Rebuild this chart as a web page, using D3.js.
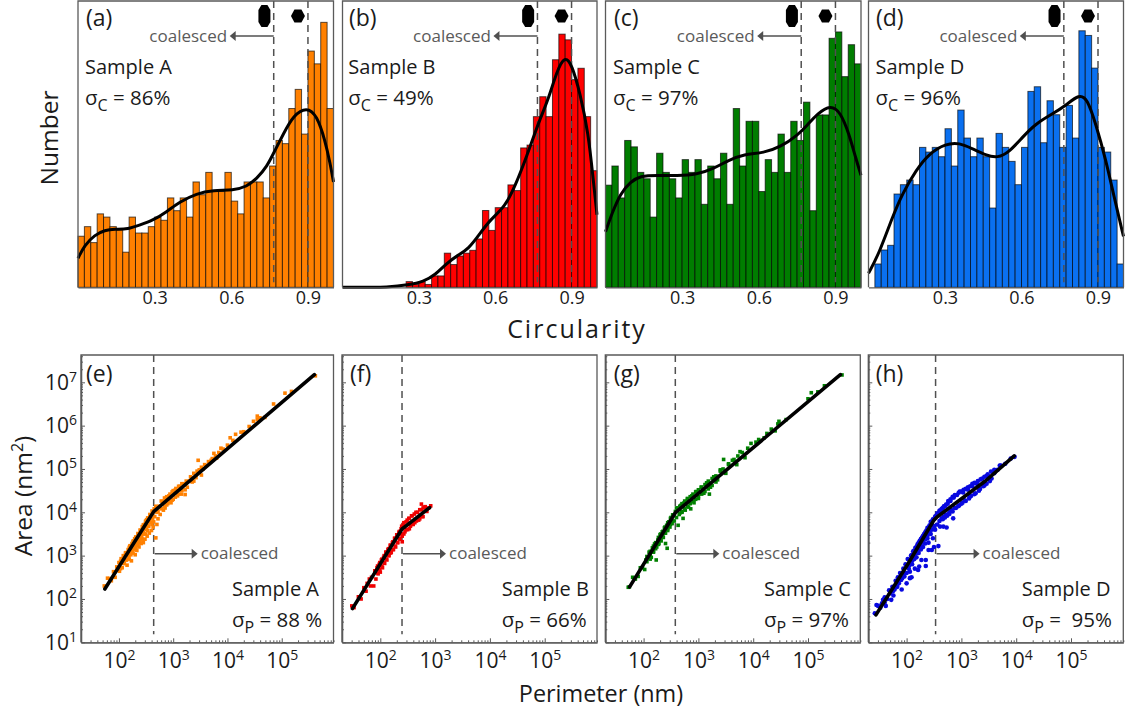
<!DOCTYPE html>
<html><head><meta charset="utf-8">
<script src="https://cdn.jsdelivr.net/npm/d3@7"></script>
<style>html,body{margin:0;padding:0;background:#fff}svg{display:block}text{font-family:"Open Sans","Noto Sans",sans-serif;fill:#1a1a1a}</style>
</head><body><svg id="c" width="1128" height="713"></svg>
<script>
// ---------- histogram counts (40 bins on 0..1) ----------
const histA=[16,19,14,23,22,19,18,11,22,17,17,19,22,21,28,24,28,22,33,29,36,30,30,36,27,23,33,33,33,28,38,46,45,56,62,48,74,70,83,56];
const histB=[0,0,0,0,0,0,0,0,0,0,2,1,2,1,4,4,12,8,11,12,13,17,27,20,28,28,36,34,49,50,60,67,60,80,89,87,73,77,60,41];
const histC=[32,38,28,46,44,36,34,22,42,36,34,28,40,36,40,26,38,34,42,26,56,38,52,52,30,40,36,48,36,52,46,58,24,54,54,78,80,66,76,70];
const histD=[0,5,8,9,20,22,23,22,30,29,30,28,34,26,38,32,28,32,28,17,33,30,27,22,30,42,43,31,40,37,30,39,32,55,54,47,30,29,23,5];
const histMax=[90,101,90,61.6];
// ---------- fitted curves ----------
const kdeXA=[0,.026,.065,.105,.144,.196,.242,.294,.346,.399,.464,.529,.608,.660,.699,.739,.771,.804,.843,.895,.935,.967,.987,1];
const kdeYA=[9.1,13.2,16.4,17.9,18.2,18.2,19.5,21,23.6,26.8,29.4,30.4,30.4,31.5,34,37.7,42.9,48.1,53.9,56.5,53.9,46,38.8,33];
const kdeXB=[0,.195,.254,.319,.365,.410,.450,.495,.541,.580,.639,.678,.724,.770,.809,.842,.874,.901,.933,.966,.985,1];
const kdeYB=[0,0,.8,2,4.4,8.5,11.1,13.4,19,23.7,28.4,35.5,46,57.9,66.1,76,81.4,78.4,68.4,54.3,37.9,25.5];
const kdeXC=[0,.025,.058,.097,.136,.201,.280,.358,.424,.482,.541,.620,.686,.751,.790,.829,.881,.920,.953,.980,1];
const kdeYC=[17.4,23.1,29.4,33,34.9,35.1,34.9,35.3,37.2,39.8,41.7,42.1,44,47.6,50.8,54.4,57.2,54.9,48.1,40.3,35.1];
const kdeXD=[0,.042,.094,.133,.186,.238,.303,.356,.408,.460,.506,.552,.604,.656,.722,.774,.826,.858,.891,.931,.963,1];
const kdeYD=[3,7.3,15.1,20.1,25.1,28.7,30.8,31,29.7,28.3,27.7,29,32.2,35.1,37.2,39,41.4,40.5,35.1,27.3,19.4,10.9];
// ---------- scatter points, [log10 perimeter, log10 area] ----------
const ptsA=[[1.73,2.3],[1.79,2.48],[1.83,2.47],[1.86,2.42],[1.9,2.63],[1.93,2.5],[1.96,2.74],[2,2.84],[2.01,2.64],[2.04,2.93],[2.06,2.72],[2.08,3],[2.1,2.82],[2.12,3.06],[2.14,2.9],[2.15,2.78],[2.17,3.14],[2.18,2.96],[2.2,3.22],[2.22,3.02],[2.23,2.88],[2.24,3.28],[2.25,3.1],[2.27,3.34],[2.28,3.15],[2.3,3.02],[2.3,3.25],[2.32,3.42],[2.33,3.12],[2.34,3.3],[2.36,3.5],[2.37,3.2],[2.38,3.36],[2.4,3.58],[2.41,3.28],[2.42,3.44],[2.44,3.66],[2.45,3.3],[2.46,3.5],[2.47,3.72],[2.48,3.38],[2.5,3.6],[2.5,3.8],[2.52,3.45],[2.54,3.86],[2.55,3.68],[2.56,3.52],[2.58,3.92],[2.59,3.76],[2.6,3.58],[2.62,3.98],[2.62,3.85],[2.63,3.66],[2.64,3.78],[2.65,4.08],[2.66,3.9],[2.68,3.41],[2.7,3.72],[2.7,4],[2.72,3.85],[2.74,4.14],[2.76,3.95],[2.8,4.25],[2.82,4.05],[2.85,4.1],[2.86,4.32],[2.9,4.2],[2.92,4.38],[2.96,4.22],[3,4.5],[3,4.3],[3.05,4.55],[3.08,4.38],[3.12,4.6],[3.15,4.42],[3.2,4.66],[3.22,4.52],[3.22,4.41],[3.3,4.72],[3.35,4.7],[3.42,4.8],[3.46,5.2],[3.48,4.98],[3.55,5],[3.6,5.08],[3.7,5.2],[3.75,5.36],[3.8,5.25],[3.88,5.48],[4,5.55],[4.05,5.72],[4.15,5.8],[4.25,5.85],[4.4,5.98],[4.48,6.1],[4.55,6.22],[4.69,6.19],[4.85,6.5],[5.06,6.75],[5.18,6.79],[5.62,7.15]];
const ptsA2=[[2.03,2.87],[2.03,2.7],[2.09,2.99],[2.09,2.82],[2.13,3.07],[2.13,2.9],[2.19,3.19],[2.19,3.02],[2.19,2.92],[2.21,3.23],[2.21,3.06],[2.26,3.33],[2.26,3.16],[2.26,3.06],[2.29,3.39],[2.29,3.22],[2.31,3.43],[2.31,3.26],[2.31,3.16],[2.35,3.51],[2.35,3.34],[2.35,3.24],[2.39,3.59],[2.39,3.42],[2.39,3.3],[2.43,3.67],[2.43,3.5],[2.43,3.38],[2.45,3.71],[2.45,3.54],[2.49,3.79],[2.49,3.62],[2.49,3.5],[2.51,3.83],[2.51,3.66],[2.53,3.87],[2.53,3.7],[2.53,3.58],[2.57,3.95],[2.57,3.78],[2.61,4.03],[2.61,3.86],[2.61,3.72],[2.68,4.14],[2.72,4.02],[2.78,4.26],[2.78,4.08],[2.84,4.33],[2.84,4.14],[2.88,4.36],[2.88,4.17],[2.94,4.42],[2.94,4.25],[2.98,4.47],[2.98,4.28],[3.04,4.52],[3.04,4.35],[3.1,4.6],[3.1,4.42],[3.16,4.66],[3.16,4.5],[3.24,4.72],[3.26,4.58],[3.32,4.82],[3.38,4.9],[3.38,4.72],[3.44,4.95],[3.52,5.04],[3.52,4.86],[3.58,5.1],[3.65,5.17],[3.72,5.24],[3.78,5.3],[3.84,5.38],[3.92,5.46],[4.1,5.66],[4.3,5.86],[4.55,6.14],[4.6,6.18]];
const ptsB=[[1.48,1.84],[1.52,1.8],[1.6,2.05],[1.65,2],[1.7,2.26],[1.74,2.18],[1.76,2.36],[1.8,2.46],[1.82,2.3],[1.84,2.5],[1.88,2.3],[1.9,2.65],[1.92,2.46],[1.94,2.72],[1.96,2.58],[1.98,2.8],[2,2.62],[2.02,2.9],[2.04,2.72],[2.06,2.96],[2.08,2.82],[2.1,3.08],[2.12,2.9],[2.14,3.14],[2.16,3],[2.18,3.24],[2.2,3.08],[2.22,3.3],[2.24,3.14],[2.26,3.4],[2.28,3.2],[2.3,3.48],[2.32,3.3],[2.34,3.54],[2.36,3.4],[2.38,3.62],[2.4,3.45],[2.4,3.32],[2.42,3.72],[2.45,3.55],[2.47,3.78],[2.5,3.6],[2.52,3.86],[2.55,3.68],[2.58,3.92],[2.6,3.72],[2.62,3.96],[2.66,3.8],[2.68,4],[2.72,3.85],[2.75,4.06],[2.75,4.19],[2.78,3.9],[2.8,4.12],[2.82,4.13],[2.85,4.02],[2.88,4.1],[2.92,4.15]];
const ptsB2=[[1.95,2.76],[1.95,2.6],[1.99,2.84],[1.99,2.68],[2.03,2.92],[2.03,2.76],[2.07,3],[2.07,2.84],[2.11,3.08],[2.11,2.92],[2.15,3.16],[2.15,3],[2.19,3.24],[2.19,3.06],[2.23,3.32],[2.23,3.14],[2.27,3.4],[2.27,3.22],[2.31,3.48],[2.31,3.3],[2.35,3.56],[2.35,3.38],[2.39,3.68],[2.39,3.5],[2.43,3.76],[2.43,3.5],[2.47,3.6],[2.49,3.82],[2.53,3.86],[2.53,3.62],[2.57,3.92],[2.57,3.72],[2.63,3.76],[2.65,4],[2.7,3.82],[2.72,4.06],[2.78,4.1],[2.76,3.9]];
const ptsC=[[1.72,2.27],[1.74,2.28],[1.8,2.5],[1.85,2.46],[1.9,2.52],[1.94,2.72],[1.98,2.72],[2.02,2.68],[2.04,2.9],[2.08,2.95],[2.1,3.08],[2.12,2.92],[2.14,2.96],[2.16,3.18],[2.18,3.1],[2.2,3.27],[2.23,2.9],[2.24,3.2],[2.26,3.36],[2.28,3.28],[2.3,3.48],[2.32,3.34],[2.34,3.55],[2.36,3.42],[2.38,3.64],[2.4,3.28],[2.4,3.52],[2.42,3.7],[2.43,3.17],[2.44,3.58],[2.46,3.78],[2.48,3.66],[2.5,3.88],[2.52,3.74],[2.54,3.94],[2.56,3.8],[2.58,4.02],[2.6,3.88],[2.62,4.1],[2.63,3.7],[2.65,3.95],[2.68,4.16],[2.7,4],[2.72,3.86],[2.74,4.22],[2.76,4.05],[2.8,4.3],[2.82,4.12],[2.86,4.08],[2.88,4.38],[2.92,4.22],[2.96,4.48],[3,4.32],[3.05,4.58],[3.1,4.44],[3.15,4.68],[3.2,4.42],[3.22,4.58],[3.28,4.82],[3.35,4.75],[3.4,4.98],[3.46,5.22],[3.5,4.9],[3.55,5.12],[3.65,5.22],[3.7,5.1],[3.76,5.4],[3.85,5.26],[3.96,5.59],[4.05,5.62],[4.2,5.72],[4.33,5.92],[4.4,5.88],[4.47,6.1],[4.6,6.14],[5,6.62],[5.06,6.76],[5.18,6.78],[5.3,6.92],[5.62,7.17]];
const ptsC2=[[2.06,2.98],[2.06,2.86],[2.12,3.1],[2.12,3],[2.18,3.22],[2.18,3.08],[2.22,3.3],[2.22,3.16],[2.27,3.42],[2.27,3.26],[2.31,3.5],[2.31,3.36],[2.35,3.56],[2.35,3.44],[2.39,3.66],[2.39,3.52],[2.44,3.76],[2.44,3.62],[2.49,3.86],[2.49,3.72],[2.53,3.94],[2.53,3.8],[2.6,4.1],[2.66,4.14],[2.66,3.98],[2.7,4.2],[2.7,4.02],[2.75,4.26],[2.75,4.08],[2.8,4.32],[2.8,4.14],[2.85,4.36],[2.85,4.2],[2.9,4.42],[2.9,4.25],[2.95,4.47],[2.95,4.3],[3,4.52],[3,4.36],[3.06,4.58],[3.06,4.42],[3.12,4.64],[3.12,4.48],[3.18,4.72],[3.18,4.54],[3.25,4.78],[3.25,4.62],[3.32,4.84],[3.32,4.7],[3.4,4.95],[3.45,5],[3.55,5.1],[3.62,5.2],[3.72,5.3],[3.8,5.38],[3.9,5.48],[4.1,5.68],[4.25,5.82],[4.45,6.04]];
const ptsD=[[1.42,1.67],[1.45,1.86],[1.48,1.84],[1.52,1.8],[1.55,1.9],[1.57,1.98],[1.6,2.04],[1.62,1.84],[1.65,2],[1.7,2.13],[1.72,1.98],[1.74,2.28],[1.76,2.08],[1.78,2.22],[1.8,2.42],[1.83,2.28],[1.84,2.5],[1.86,2.36],[1.88,2.6],[1.91,2.22],[1.92,2.48],[1.94,2.7],[1.96,2.52],[1.98,2.8],[2,2.36],[2,2.6],[2.02,2.92],[2.04,2.7],[2.06,2.48],[2.06,2.63],[2.08,3],[2.09,2.5],[2.1,2.8],[2.12,3.1],[2.14,2.92],[2.15,2.7],[2.16,3.18],[2.18,2.96],[2.2,3.26],[2.21,2.67],[2.22,3.06],[2.23,2.75],[2.24,3.34],[2.26,3.14],[2.27,2.9],[2.28,3.42],[2.3,3.2],[2.32,3.5],[2.34,3.28],[2.35,2.9],[2.35,2.76],[2.36,3.58],[2.38,3.4],[2.4,3.13],[2.4,3.3],[2.42,3.68],[2.44,3.5],[2.46,3.13],[2.46,3.76],[2.48,3.4],[2.5,3.2],[2.5,3.84],[2.52,3.6],[2.54,3.92],[2.56,3.72],[2.58,3.22],[2.58,3.98],[2.6,3.8],[2.61,3.67],[2.62,4.04],[2.64,3.86],[2.66,4.1],[2.67,3.67],[2.68,3.9],[2.7,4.14],[2.72,3.95],[2.73,3.65],[2.75,4.2],[2.78,4],[2.8,4.26],[2.82,4.05],[2.85,3.86],[2.86,4.34],[2.88,4.1],[2.92,4.4],[2.94,4.14],[2.97,4.48],[3,4.2],[3.03,4.46],[3.06,4.28],[3.12,4.52],[3.15,4.36],[3.2,4.6],[3.24,4.42],[3.28,4.66],[3.32,4.5],[3.38,4.78],[3.42,4.62],[3.48,4.88],[3.52,4.72],[3.6,4.9],[3.66,4.98],[3.72,5.08],[3.8,5.12],[3.9,5.24],[3.97,5.28]];
const ptsD2=[[2.1,3.02],[2.14,3.12],[2.18,3.2],[2.22,3.3],[2.26,3.38],[2.3,3.46],[2.34,3.54],[2.38,3.64],[2.42,3.7],[2.44,3.78],[2.48,3.84],[2.52,3.9],[2.56,3.98],[2.6,4.04],[2.64,4.08],[2.68,4.14],[2.72,4.18],[2.76,4.26],[2.8,4.3],[2.84,4.36],[2.88,4.4],[2.95,4.45],[3,4.48],[3.04,4.52],[3.08,4.54],[3.12,4.58],[3.16,4.6],[3.2,4.66],[3.24,4.68],[3.3,4.72],[3.35,4.76],[3.42,4.82],[3.46,4.84],[3.54,4.94],[3.6,4.98],[3.7,5.08],[2.66,3.84],[2.7,3.88],[2.74,3.92],[2.78,3.96],[2.84,4.02],[2.9,4.1],[2.96,4.16],[3.02,4.22],[3.08,4.26],[3.14,4.32],[3.18,4.38],[3.26,4.44],[3.34,4.54],[3.4,4.6],[3.46,4.66],[3.55,4.78],[2.05,2.78],[2.1,2.88],[2.14,2.98],[2.18,3.06],[2.22,3.14],[2.26,3.22],[2.3,3.3],[2.34,3.38],[2.38,3.46],[2.42,3.54],[2.46,3.6],[2.5,3.68],[1.8,2.3],[1.75,2.18],[1.68,2.2],[1.6,1.92],[1.95,2.6],[1.9,2.44]];
// ---------- fit lines, perimeter and area ----------
const fitPA=[55,437,4e5], fitAA=[170,1.04e4,1.5e7];
const fitPB=[31,249,794], fitAB=[60,4100,12800];
const fitPC=[55.6,379,3.9e5], fitAC=[190,9800,1.5e7];
const fitPD=[27.6,107,315,363,2690,9200], fitAD=[43,660,6600,7900,5.2e4,2e5];
// ---------- labels and thresholds ----------
const sampleNames=["Sample A","Sample B","Sample C","Sample D"];
const topLetters=["(a)","(b)","(c)","(d)"], botLetters=["(e)","(f)","(g)","(h)"];
const sigmaC=[" = 86%"," = 49%"," = 97%"," = 96%"];
const sigmaP=[" = 88 %"," = 66%"," = 97%"," =  95%"];
const circTicks=[.3,.6,.9];
const circCuts=[.766,.9];
const perimCuts=[437,249,379,338];
const perimTicks=[1e2,1e3,1e4,1e5], areaTicks=[1e1,1e2,1e3,1e4,1e5,1e6,1e7];
const histColors=["#ff8000","#ff0000","#007d00","#0a70f0"];
const dotColors=["#ff8000","#f00000","#008000","#0808e0"];

const svg=d3.select("#c");
const hists=[histA,histB,histC,histD];
const kdeX=[kdeXA,kdeXB,kdeXC,kdeXD], kdeY=[kdeYA,kdeYB,kdeYC,kdeYD];
const pts=[ptsA.concat(ptsA2),ptsB.concat(ptsB2),ptsC.concat(ptsC2),ptsD.concat(ptsD2)];
const fitP=[fitPA,fitPB,fitPC,fitPD], fitA=[fitAA,fitAB,fitAC,fitAD];
const frameCol="#5a5a5a", gray="#505050";

const topL=[78,342.5,605.5,868.5], topR=[333.5,597,861,1123.5];
const botL=[81,342,605.3,868.3], botR=[333.5,597,860.3,1123.3];
const topY=[1,287.3], botY=[355,642.3];
const txtX=[85,348.3,613,875.5], lblX=[86,349,614,876];
const botTxtX=[232,501.7,764,1021.7], botLblX=[86,350,613.7,875.7];
const fs=20;

function txt(g,x,y,s,size,o={}){
  const t=g.append("text").attr("x",x).attr("y",y).attr("font-size",size).text(s);
  if(o.anchor)t.attr("text-anchor",o.anchor);
  if(o.fill)t.style("fill",o.fill);
  if(o.spacing)t.attr("letter-spacing",o.spacing);
  if(o.rot!=null)t.attr("transform",`rotate(${o.rot} ${x} ${y})`);
  return t;
}
function sigma(g,x,y,sub,rest){
  const t=g.append("text").attr("x",x).attr("y",y).attr("font-size",20.5).attr("xml:space","preserve").style("white-space","pre");
  t.append("tspan").text("σ");
  t.append("tspan").attr("dy",6).attr("font-size",16).text(sub);
  t.append("tspan").attr("dy",-6).text(rest);
}
function power(sel,d,supSize,dy){
  const e=Math.round(Math.log10(d));
  sel.text(null);
  sel.append("tspan").text("10");
  sel.append("tspan").attr("dy",dy).attr("font-size",supSize).text(e);
}
function frame(g,x0,x1,y0,y1){
  g.append("path").attr("d",`M${x0},${y1}V${y0}H${x1}V${y1}`).attr("fill","none").attr("stroke",frameCol).attr("stroke-width",1.3);
}
function arrow(g,x0,x1,y){
  const dir=Math.sign(x1-x0);
  g.append("line").attr("x1",x0).attr("x2",x1-dir*5).attr("y1",y).attr("y2",y).attr("stroke",gray).attr("stroke-width",1.5);
  g.append("path").attr("d",`M${x1},${y}L${x1-dir*6},${y-5}V${y+5}Z`).attr("fill",gray);
}

const unit=d3.line();
hists.forEach((h,i)=>{
  const g=svg.append("g");
  const x=d3.scaleLinear().domain([0,1]).range([topL[i],topR[i]]);
  const y=d3.scaleLinear().domain([0,histMax[i]]).range([topY[1],topY[1]-287.3]);
  g.selectAll("rect").data(h).join("rect")
    .attr("x",(d,k)=>x(k/40)).attr("width",(d,k)=>x((k+1)/40)-x(k/40))
    .attr("y",d=>y(d)).attr("height",d=>topY[1]-y(d))
    .attr("fill",histColors[i]).attr("stroke","#000").attr("stroke-opacity",.65).attr("stroke-width",d=>d?1:0);
  circCuts.forEach(c=>g.append("line").attr("x1",x(c)).attr("x2",x(c)).attr("y1",topY[0]).attr("y2",topY[1]-5)
    .attr("stroke",gray).attr("stroke-width",1.5).attr("stroke-dasharray","7,5"));
  const ln=d3.line().x(d=>x(d[0])).y(d=>y(d[1])).curve(d3.curveBasis);
  g.append("path").attr("d",ln(kdeX[i].map((v,k)=>[v,kdeY[i][k]]))).attr("fill","none").attr("stroke","#000").attr("stroke-width",3);
  frame(g,topL[i],topR[i],topY[0],topY[1]);
  const ax=g.append("g").attr("transform",`translate(0,${topY[1]})`).call(d3.axisBottom(x).tickValues(circTicks).tickSize(0).tickPadding(0).tickFormat(d3.format(".1f")));
  ax.select(".domain").attr("stroke",frameCol).attr("stroke-width",1.3);
  ax.attr("font-family",null);
  ax.selectAll("text").attr("font-size",18).attr("dy","0.95em").style("fill","#1a1a1a");
  const xc=x(circCuts[0]), xr=x(circCuts[1]);
  g.append("path").attr("d",unit([[-6,-6],[-3,-11],[3,-11],[6,-6],[6,6],[3,11],[-3,11],[-6,6]])+"Z").attr("transform",`translate(${xc-9.3},16)`).attr("fill","#000");
  g.append("path").attr("d",unit([[-7,0],[-3.5,-6.5],[3.5,-6.5],[7,0],[3.5,6.5],[-3.5,6.5]])+"Z").attr("transform",`translate(${xr-10},16)`).attr("fill","#000");
  arrow(g,xc,xc-44,36);
  txt(g,xc-46.5,41.5,"coalesced",17,{anchor:"end",fill:"#5a5a5a"});
  txt(g,lblX[i],26,topLetters[i],23);
  txt(g,txtX[i],73.5,sampleNames[i],fs);
  sigma(g,txtX[i],105,"C",sigmaC[i]);
});

pts.forEach((p,i)=>{
  const g=svg.append("g");
  const x=d3.scaleLog().domain([20,9e5]).range([botL[i],botR[i]]);
  const y=d3.scaleLog().domain([10,4.27e7]).range([botY[1],botY[0]]);
  const cut=x(perimCuts[i]);
  g.append("line").attr("x1",cut).attr("x2",cut).attr("y1",botY[0]).attr("y2",botY[1]-8)
    .attr("stroke",gray).attr("stroke-width",1.5).attr("stroke-dasharray","7,5");
  if(i<3){
    g.selectAll("rect").data(p).join("rect")
      .attr("x",d=>x(10**d[0])-1.8).attr("y",d=>y(10**d[1])-1.8).attr("width",3.6).attr("height",3.6).attr("fill",dotColors[i]);
  } else {
    g.selectAll("circle").data(p).join("circle")
      .attr("cx",d=>x(10**d[0])).attr("cy",d=>y(10**d[1])).attr("r",2.3).attr("fill",dotColors[i]);
  }
  const ln=d3.line().x(d=>x(d[0])).y(d=>y(d[1]));
  g.append("path").attr("d",ln(fitP[i].map((v,k)=>[v,fitA[i][k]]))).attr("fill","none").attr("stroke","#000").attr("stroke-width",3.6).attr("stroke-linecap","round");
  frame(g,botL[i],botR[i],botY[0],botY[1]);
  const minorX=[],minorY=[];
  for(let e=1;e<=5;e++)for(let m=2;m<=9;m++){const v=m*10**e;if(v>=20&&v<=9e5)minorX.push(v);}
  for(let e=1;e<=7;e++)for(let m=2;m<=9;m++){const v=m*10**e;if(v<=4.27e7)minorY.push(v);}
  const mx=g.append("g").attr("transform",`translate(0,${botY[1]})`).call(d3.axisBottom(x).tickValues(minorX).tickSizeInner(-2).tickSizeOuter(0).tickFormat(""));
  const my=g.append("g").attr("transform",`translate(${botL[i]},0)`).call(d3.axisLeft(y).tickValues(minorY).tickSizeInner(-2).tickSizeOuter(0).tickFormat(""));
  const ax=g.append("g").attr("transform",`translate(0,${botY[1]})`).call(d3.axisBottom(x).tickValues(perimTicks).tickSizeInner(-4).tickSizeOuter(0).tickPadding(7));
  const ay=g.append("g").attr("transform",`translate(${botL[i]},0)`).call(d3.axisLeft(y).tickValues(areaTicks).tickSizeInner(-4).tickSizeOuter(0).tickPadding(4));
  [mx,my,ax,ay].forEach(a=>{
    a.attr("font-family",null);
    a.select(".domain").attr("stroke",frameCol).attr("stroke-width",1.3);
    a.selectAll("line").attr("stroke",frameCol).attr("stroke-width",1);
  });
  ax.selectAll("text").attr("font-size",21).attr("dy","0.9em").style("fill","#1a1a1a").each(function(d){power(d3.select(this),d,14,-8);});
  if(i===0){
    ay.selectAll("text").attr("font-size",21).attr("dy","0.32em").style("fill","#1a1a1a").each(function(d){power(d3.select(this),d,14,-8);});
  } else ay.selectAll("text").remove();
  arrow(g,cut+1,cut+44,553.7);
  txt(g,cut+47,559,"coalesced",17,{fill:"#5a5a5a"});
  txt(g,botLblX[i],381.7,botLetters[i],23);
  txt(g,botTxtX[i],596,sampleNames[i],fs);
  sigma(g,botTxtX[i],627,"P",sigmaP[i]);
});

txt(svg,58,138,"Number",24.5,{anchor:"middle",rot:-90});
txt(svg,577,338,"Circularity",25,{anchor:"middle",spacing:2});
txt(svg,601,702,"Perimeter (nm)",23.4,{anchor:"middle"});
const at=svg.append("text").attr("font-size",24.5).attr("text-anchor","middle").attr("transform","translate(32,496) rotate(-90)");
at.append("tspan").text("Area (nm");
at.append("tspan").attr("dy",-9).attr("font-size",16).text("2");
at.append("tspan").attr("dy",9).text(")");
</script></body></html>
